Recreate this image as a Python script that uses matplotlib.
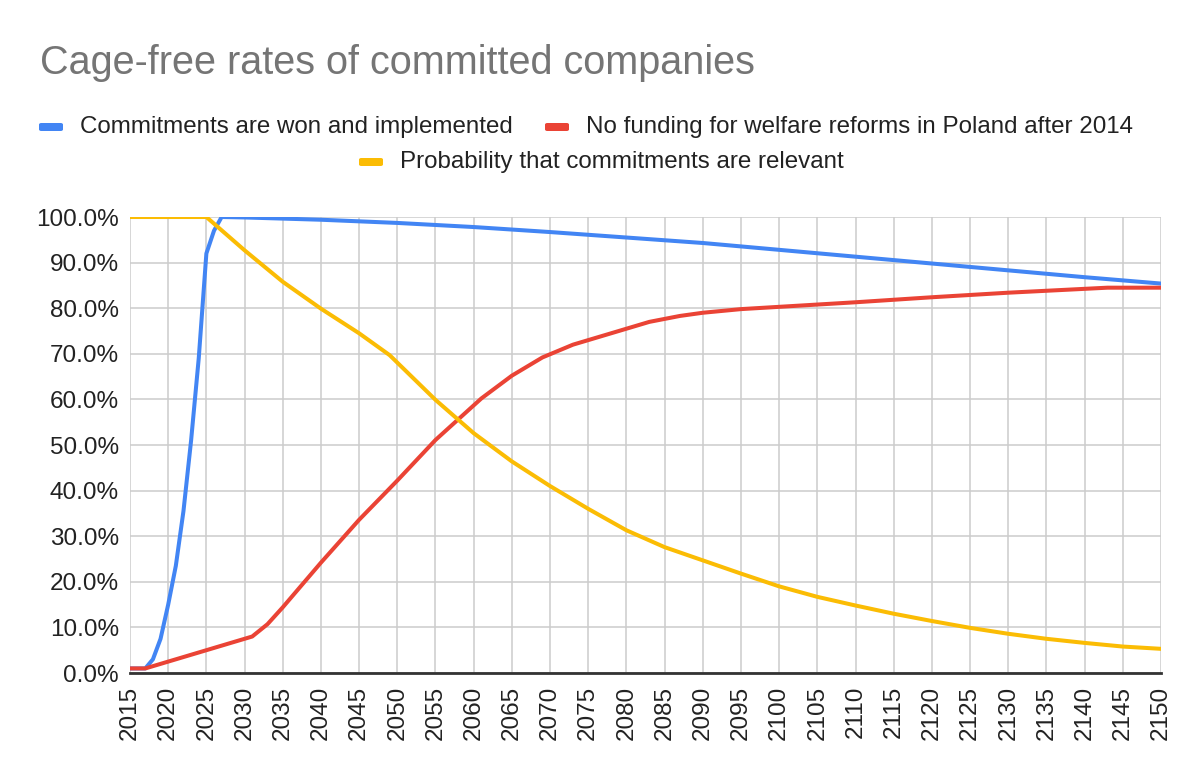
import matplotlib
matplotlib.use('Agg')
import matplotlib.pyplot as plt
from matplotlib.patches import FancyBboxPatch
from matplotlib.ticker import FuncFormatter, MultipleLocator

plt.rcParams['font.family'] = ['Liberation Sans', 'DejaVu Sans']

# series (year, percent)
blue_years = [2015, 2016, 2017, 2018, 2019, 2020, 2021, 2022, 2023, 2024, 2025, 2026, 2027,
              2030, 2040, 2050, 2060, 2070, 2080, 2090, 2100, 2110, 2120, 2130, 2140, 2150]
blue_vals = [1, 1, 1, 3, 7.5, 15, 23.5, 35.5, 51, 69, 92, 97, 100,
             99.9, 99.4, 98.7, 97.8, 96.7, 95.5, 94.3, 92.8, 91.3, 89.8, 88.3, 86.8, 85.4]

red_years = [2015, 2017, 2031, 2033, 2035, 2040, 2045, 2050, 2055, 2061, 2065, 2069, 2073,
             2080, 2083, 2087, 2090, 2095, 2100, 2110, 2120, 2130, 2143, 2150]
red_vals = [1, 1, 8, 10.7, 14.4, 24.2, 33.6, 42.2, 51.1, 60.2, 65.2, 69.2, 72,
            75.5, 77, 78.3, 79, 79.8, 80.3, 81.3, 82.4, 83.4, 84.5, 84.5]

yellow_years = [2015, 2025, 2030, 2035, 2040, 2045, 2049, 2055, 2060, 2065, 2070, 2075, 2080,
                2085, 2090, 2095, 2100, 2105, 2110, 2115, 2120, 2125, 2130, 2135, 2140, 2145, 2150]
yellow_vals = [100, 100, 92.7, 85.8, 79.9, 74.5, 69.7, 59.9, 52.6, 46.4, 41.0, 36.0, 31.3,
               27.6, 24.7, 21.8, 19.0, 16.7, 14.8, 13.0, 11.4, 9.9, 8.6, 7.5, 6.6, 5.8, 5.3]

labels = ['Commitments are won and implemented',
          'No funding for welfare reforms in Poland after 2014',
          'Probability that commitments are relevant']
colors = ['#4285F4', '#EA4335', '#FBBC04']

fig = plt.figure(figsize=(12, 7.76), dpi=100)
ax = fig.add_axes([130 / 1200, 1 - 673 / 776, 1031 / 1200, 456 / 776])

ax.plot(blue_years, blue_vals, color=colors[0], lw=2.9, solid_joinstyle='round', zorder=3)
ax.plot(red_years, red_vals, color=colors[1], lw=2.9, solid_joinstyle='round', zorder=4)
ax.plot(yellow_years, yellow_vals, color=colors[2], lw=2.9, solid_joinstyle='round', zorder=5)

ax.set_xlim(2015, 2150)
ax.set_ylim(0, 100)
ax.xaxis.set_major_locator(MultipleLocator(5))
ax.yaxis.set_major_locator(MultipleLocator(10))
ax.yaxis.set_major_formatter(FuncFormatter(lambda v, p: f'{v:.1f}%'))
ax.grid(True, color='#cccccc', lw=1.1)
ax.set_axisbelow(True)
for s in ['top', 'right', 'left']:
    ax.spines[s].set_visible(False)
ax.spines['bottom'].set_color('#333333')
ax.spines['bottom'].set_linewidth(2)
ax.spines['bottom'].set_zorder(6)
ax.tick_params(length=0, labelsize=17.5, labelcolor='#222222')
ax.tick_params(axis='x', rotation=90, pad=9)
ax.tick_params(axis='y', pad=8)

fig.text(40 / 1200, 1 - 63 / 776, 'Cage-free rates of committed companies',
         fontsize=28.5, color='#757575', va='center', ha='left')

# legend drawn by hand to match the two-row layout
legend_items = [(0, 39, 127), (1, 545, 127), (2, 359, 162)]
for i, x0, y0 in legend_items:
    box = FancyBboxPatch((x0 / 1200, (776 - y0 - 4) / 776), 24 / 1200, 8 / 776,
                         boxstyle='round,pad=0,rounding_size=0.002',
                         transform=fig.transFigure, facecolor=colors[i],
                         edgecolor='none')
    fig.add_artist(box)
    fig.text((x0 + 41) / 1200, 1 - y0 / 776, labels[i], fontsize=17.4, color='#222222',
             va='center', ha='left')

fig.savefig('out.png', dpi=100)
